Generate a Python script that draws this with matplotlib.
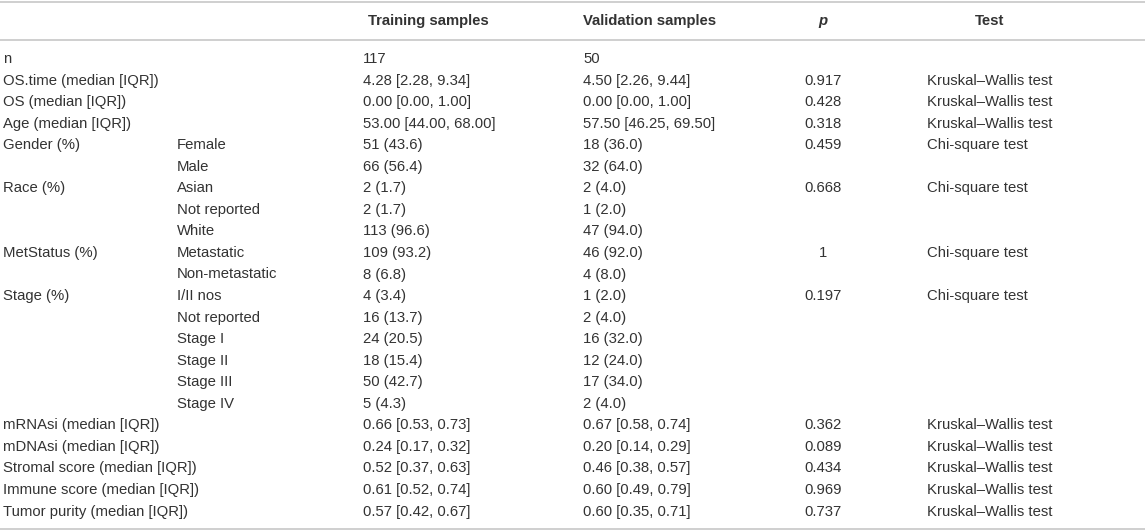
import matplotlib.pyplot as plt

# table content
headers = ["", "", "Training samples", "Validation samples", "p", "Test"]

variables = ["n", "OS.time (median [IQR])", "OS (median [IQR])", "Age (median [IQR])",
             "Gender (%)", "", "Race (%)", "", "", "MetStatus (%)", "",
             "Stage (%)", "", "", "", "", "",
             "mRNAsi (median [IQR])", "mDNAsi (median [IQR])",
             "Stromal score (median [IQR])", "Immune score (median [IQR])",
             "Tumor purity (median [IQR])"]
levels = ["", "", "", "", "Female", "Male", "Asian", "Not reported", "White",
          "Metastatic", "Non-metastatic", "I/II nos", "Not reported", "Stage I",
          "Stage II", "Stage III", "Stage IV", "", "", "", "", ""]
training = ["117", "4.28 [2.28, 9.34]", "0.00 [0.00, 1.00]", "53.00 [44.00, 68.00]",
            "51 (43.6)", "66 (56.4)", "2 (1.7)", "2 (1.7)", "113 (96.6)",
            "109 (93.2)", "8 (6.8)", "4 (3.4)", "16 (13.7)", "24 (20.5)",
            "18 (15.4)", "50 (42.7)", "5 (4.3)", "0.66 [0.53, 0.73]",
            "0.24 [0.17, 0.32]", "0.52 [0.37, 0.63]", "0.61 [0.52, 0.74]",
            "0.57 [0.42, 0.67]"]
validation = ["50", "4.50 [2.26, 9.44]", "0.00 [0.00, 1.00]", "57.50 [46.25, 69.50]",
              "18 (36.0)", "32 (64.0)", "2 (4.0)", "1 (2.0)", "47 (94.0)",
              "46 (92.0)", "4 (8.0)", "1 (2.0)", "2 (4.0)", "16 (32.0)",
              "12 (24.0)", "17 (34.0)", "2 (4.0)", "0.67 [0.58, 0.74]",
              "0.20 [0.14, 0.29]", "0.46 [0.38, 0.57]", "0.60 [0.49, 0.79]",
              "0.60 [0.35, 0.71]"]
p_values = ["", "0.917", "0.428", "0.318", "0.459", "", "0.668", "", "", "1", "",
            "0.197", "", "", "", "", "", "0.362", "0.089", "0.434", "0.969", "0.737"]
tests = ["", "Kruskal–Wallis test", "Kruskal–Wallis test", "Kruskal–Wallis test",
         "Chi-square test", "", "Chi-square test", "", "", "Chi-square test", "",
         "Chi-square test", "", "", "", "", "", "Kruskal–Wallis test",
         "Kruskal–Wallis test", "Kruskal–Wallis test", "Kruskal–Wallis test",
         "Kruskal–Wallis test"]

plt.rcParams['font.family'] = ['Liberation Sans', 'DejaVu Sans']

W, H = 1145, 530
fig = plt.figure(figsize=(W / 100, H / 100), dpi=100)
ax = fig.add_axes([0, 0, 1, 1])
ax.set_xlim(0, W)
ax.set_ylim(H, 0)
ax.axis("off")

txt = "#333333"
fs = 10.7
line_c = "#cfcfcf"

# rules
for y in (1.5, 39.5, 528.5):
    ax.axhline(y, color=line_c, lw=1.4)

# header
hy = 21
ax.text(368, hy, headers[2], fontsize=fs, fontweight="bold", color=txt, va="center")
ax.text(583, hy, headers[3], fontsize=fs, fontweight="bold", color=txt, va="center")
ax.text(823, hy, headers[4], fontsize=fs, fontweight="bold", style="italic",
        color=txt, va="center", ha="center")
ax.text(990, hy, headers[5], fontsize=fs, fontweight="bold", color=txt,
        va="center", ha="center")

# body rows
y0, dy = 59, 21.55
for i in range(len(variables)):
    y = y0 + i * dy
    ax.text(3, y, variables[i], fontsize=fs, color=txt, va="center")
    ax.text(177, y, levels[i], fontsize=fs, color=txt, va="center")
    ax.text(363, y, training[i], fontsize=fs, color=txt, va="center")
    ax.text(583, y, validation[i], fontsize=fs, color=txt, va="center")
    ax.text(823, y, p_values[i], fontsize=fs, color=txt, va="center", ha="center")
    ax.text(927, y, tests[i], fontsize=fs, color=txt, va="center")

fig.savefig("out.png", dpi=100)
